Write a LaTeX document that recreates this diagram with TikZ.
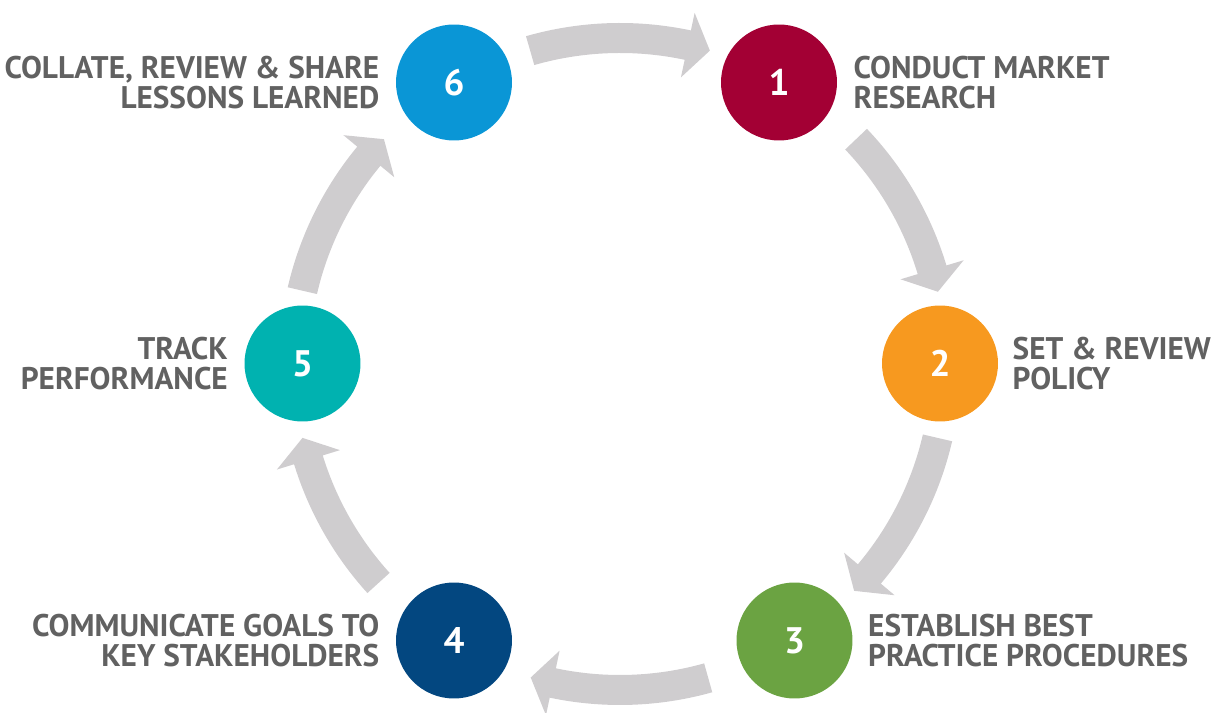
\documentclass[tikz,border=0pt]{standalone}
\usepackage{fontspec}
\setmainfont{PT Sans}
\usetikzlibrary{positioning}

\definecolor{ringgrey}{HTML}{CFCDCF}
\definecolor{textgrey}{HTML}{616161}
\definecolor{cresearch}{HTML}{A30034}
\definecolor{cpolicy}{HTML}{F7991F}
\definecolor{cpractice}{HTML}{6BA342}
\definecolor{cgoals}{HTML}{034780}
\definecolor{ctrack}{HTML}{00B2B0}
\definecolor{clessons}{HTML}{0A96D6}

\begin{document}
\begin{tikzpicture}[x=0.02cm, y=0.02cm,
  stage/.style={circle, minimum size=2.32cm, inner sep=0pt, fill=#1,
    text=white, font=\bfseries\fontsize{21}{21}\selectfont},
  caption/.style={inner sep=0pt, text=textgrey,
    font=\bfseries\fontsize{17.8}{17.2}\selectfont}]
  \useasboundingbox (0,0) rectangle (1214,713);
  \coordinate (ctr) at (620,349);

  % --- Helper: \cyclearrow{tail}{tip} ---
  % Grey bent arrow on the ring round (ctr), running clockwise from the
  % angle {tail} to the angle {tip}; the head takes the last 4 degrees.
  \newcommand{\cyclearrow}[2]{%
    \fill[ringgrey] ([shift={(ctr)}]#1:341)
      arc[start angle=#1, end angle={#2+4}, radius=341]
      -- ([shift={(ctr)}]{#2+4}:359)
      -- ([shift={(ctr)}]#2:326)
      -- ([shift={(ctr)}]{#2+4}:293)
      -- ([shift={(ctr)}]{#2+4}:311)
      arc[start angle={#2+4}, end angle=#1, radius=311]
      -- cycle;}

  % the six steps round the cycle
  \node[stage=cresearch] (n1) at (779,630.5) {1};
  \node[stage=cpolicy]   (n2) at (940,349.5) {2};
  \node[stage=cpractice] (n3) at (794.5,72.5) {3};
  \node[stage=cgoals]    (n4) at (454,72.5)   {4};
  \node[stage=ctrack]    (n5) at (302.5,349.5) {5};
  \node[stage=clessons]  (n6) at (454,630.5)  {6};

  % captions beside each step
  \node[caption, right=0.32cm of n1, align=left]  (l1) {CONDUCT MARKET\\RESEARCH};
  \node[caption, right=0.28cm of n2, align=left]  (l2) {SET \& REVIEW\\POLICY};
  \node[caption, right=0.30cm of n3, align=left]  (l3) {ESTABLISH BEST\\PRACTICE PROCEDURES};
  \node[caption, left=0.32cm of n4, align=right]  (l4) {COMMUNICATE GOALS TO\\KEY STAKEHOLDERS};
  \node[caption, left=0.32cm of n5, align=right]  (l5) {TRACK\\PERFORMANCE};
  \node[caption, left=0.32cm of n6, align=right]  (l6) {COLLATE, REVIEW \& SHARE\\LESSONS LEARNED};

  % arrows between the steps, clockwise
  \cyclearrow{106}{74}
  \cyclearrow{43.6}{12.8}
  \cyclearrow{-13.1}{-44.1}
  \cyclearrow{-74.3}{-105.9}
  \cyclearrow{-137.8}{-166.9}
  \cyclearrow{167}{136.4}
\end{tikzpicture}
\end{document}
